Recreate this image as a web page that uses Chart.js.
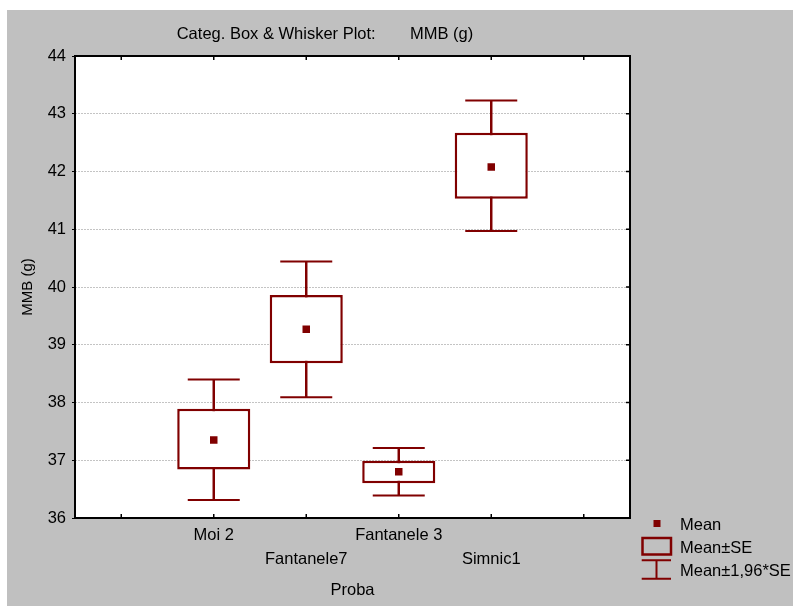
<!DOCTYPE html>
<html><head><meta charset="utf-8">
<script src="https://cdn.jsdelivr.net/npm/chart.js@4.4.1/dist/chart.umd.min.js"></script>
<style>
html,body{margin:0;padding:0;background:#fff;width:793px;height:606px;overflow:hidden}
#wrap{position:absolute;left:7px;top:10px;width:786px;height:596px;background:#c0c0c0}
</style></head><body>
<div id="wrap"><canvas id="c"></canvas></div>
<script>
const categories = ['Moi 2', 'Fantanele7', 'Fantanele 3', 'Simnic1'];
const means  = [37.35, 39.27, 36.80, 42.08];
const seLow  = [36.84, 38.68, 36.60, 41.53];
const seHigh = [37.89, 39.86, 36.99, 42.67];
const ciLow  = [36.31, 38.09, 36.39, 40.97];
const ciHigh = [38.40, 40.44, 37.21, 43.23];
const yTicks = [36, 37, 38, 39, 40, 41, 42, 43, 44];
const axisLabels = ['', ...categories, ''];

const RED = '#800000';
const FONT = "'Liberation Sans', Arial, sans-serif";

const frame = {
  id: 'frame',
  beforeDraw(chart) {
    const {ctx, chartArea: a} = chart;
    ctx.save();
    ctx.fillStyle = '#fff';
    ctx.fillRect(a.left, a.top, a.right - a.left, a.bottom - a.top);
    ctx.restore();
  },
  afterDraw(chart) {
    const {ctx, chartArea: a, scales} = chart;
    ctx.save();
    ctx.strokeStyle = '#000';
    ctx.lineWidth = 2;
    ctx.strokeRect(a.left, a.top, a.right - a.left, a.bottom - a.top);
    ctx.lineWidth = 1.5;
    ctx.beginPath();
    scales.x.ticks.forEach((t, i) => {
      const px = scales.x.getPixelForTick(i);
      ctx.moveTo(px, a.top); ctx.lineTo(px, a.top + 4);
      ctx.moveTo(px, a.bottom); ctx.lineTo(px, a.bottom - 4);
    });
    yTicks.forEach(v => {
      const py = scales.y.getPixelForValue(v);
      ctx.moveTo(a.right, py); ctx.lineTo(a.right - 4, py);
    });
    ctx.stroke();
    ctx.fillStyle = '#000';
    ctx.font = '16.5px ' + FONT;
    ctx.textBaseline = 'alphabetic';
    ctx.textAlign = 'left';
    ctx.fillText('Categ. Box & Whisker Plot:', a.left + 101.7, a.top - 17);
    ctx.fillText('MMB (g)', a.left + 335, a.top - 17);
    const lx = a.right, ly = a.bottom;
    ctx.fillStyle = RED;
    ctx.fillRect(lx + 23.5, ly + 2, 7, 7);
    ctx.strokeStyle = RED;
    ctx.lineWidth = 2.5;
    ctx.strokeRect(lx + 12.5, ly + 20, 28.5, 16.5);
    ctx.lineWidth = 2;
    ctx.beginPath();
    ctx.moveTo(lx + 11.7, ly + 42.3); ctx.lineTo(lx + 41, ly + 42.3);
    ctx.moveTo(lx + 11.7, ly + 60.7); ctx.lineTo(lx + 41, ly + 60.7);
    ctx.moveTo(lx + 26.5, ly + 42.3); ctx.lineTo(lx + 26.5, ly + 60.7);
    ctx.stroke();
    ctx.fillStyle = '#000';
    ctx.fillText('Mean', lx + 50, ly + 12);
    ctx.fillText('Mean\u00b1SE', lx + 50, ly + 34.7);
    ctx.fillText('Mean\u00b11,96*SE', lx + 50, ly + 57.7);
    ctx.restore();
  }
};

new Chart(document.getElementById('c'), {
  type: 'bar',
  data: {
    labels: axisLabels,
    datasets: [
      {
        type: 'line', label: 'Mean', showLine: false, order: 0,
        data: categories.map((c, i) => ({x: c, y: means[i]})),
        pointStyle: 'rect', pointRadius: 5.3, pointHoverRadius: 5.3,
        pointBackgroundColor: RED, pointBorderWidth: 0, borderWidth: 0
      },
      {
        label: 'Mean±SE', order: 1, grouped: false,
        data: categories.map((c, i) => ({x: c, y: [seLow[i], seHigh[i]]})),
        backgroundColor: '#fff', borderColor: RED, borderWidth: 2.5, borderSkipped: false,
        categoryPercentage: 1, barPercentage: 0.79
      },
      {
        label: 'whisker', order: 2, grouped: false,
        data: categories.map((c, i) => ({x: c, y: [ciLow[i], ciHigh[i]]})),
        backgroundColor: RED, borderWidth: 0, barThickness: 1.8
      },
      {
        type: 'line', label: 'Mean±1,96*SE', showLine: false, order: 3,
        data: categories.flatMap((c, i) => [{x: c, y: ciLow[i]}, {x: c, y: ciHigh[i]}]),
        pointStyle: 'line', pointRadius: 26, pointHoverRadius: 26,
        pointBorderColor: RED, pointBorderWidth: 2, borderWidth: 0
      }
    ]
  },
  options: {
    responsive: true, maintainAspectRatio: false, animation: false, events: [],
    layout: {padding: {top: 46, right: 163, left: 0, bottom: 0}},
    plugins: {legend: {display: false}, tooltip: {enabled: false}, title: {display: false}},
    scales: {
      x: {
        type: 'category', offset: true,
        grid: {display: false, drawTicks: false},
        border: {display: false},
        ticks: {
          autoSkip: false, maxRotation: 0, minRotation: 0, padding: 5, color: '#000',
          font: {family: FONT, size: 16.5, lineHeight: 1.4545},
          callback: (v, i) => {
            const l = axisLabels[i];
            return (i % 2 === 0 && l) ? ['', l] : l;
          }
        },
        title: {display: true, text: 'Proba', color: '#000', font: {family: FONT, size: 16.5}, padding: {top: 0, bottom: 5.4}},
        afterFit: s => { s.height = 88; }
      },
      y: {
        type: 'linear', min: 36, max: 44,
        afterBuildTicks: s => { s.ticks = yTicks.map(v => ({value: v})); },
        grid: {color: '#c4c4c4', lineWidth: 1, tickColor: '#000', tickLength: 3, tickWidth: 1},
        border: {display: false, dash: [2, 1]},
        ticks: {padding: 6, color: '#000', font: {family: FONT, size: 16.5}},
        title: {display: true, text: 'MMB (g)', color: '#000', font: {family: FONT, size: 15}, padding: {top: 11.4, bottom: 0}},
        afterFit: s => { s.width = 68; }
      }
    }
  },
  plugins: [frame]
});
</script>
</body></html>
